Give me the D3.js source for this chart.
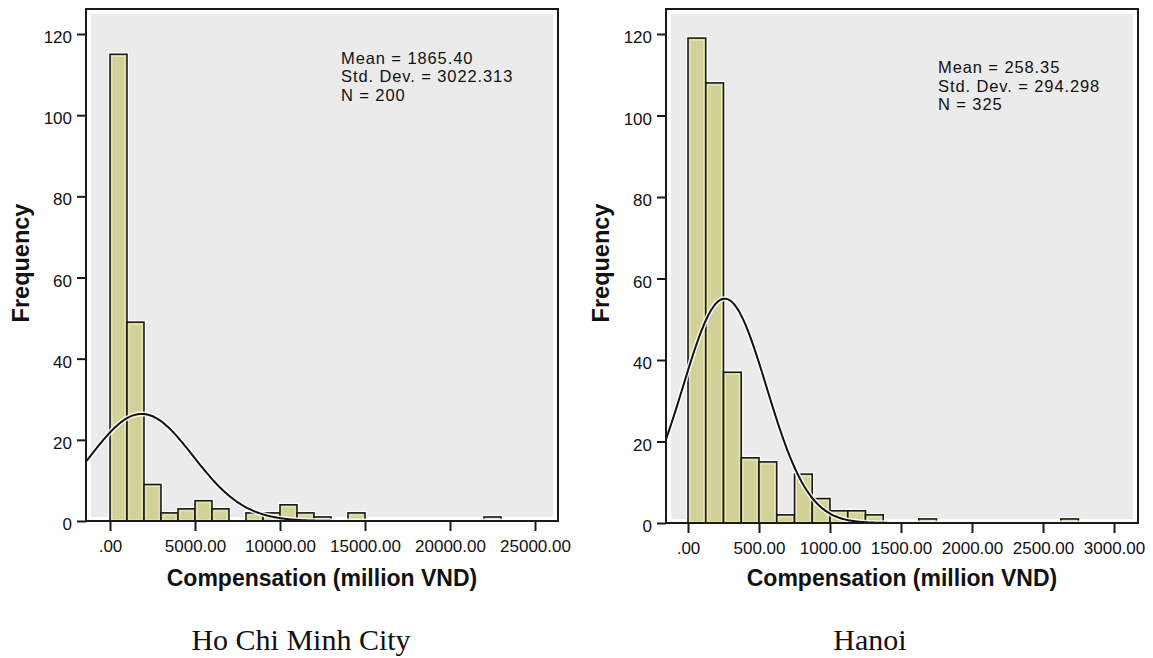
<!DOCTYPE html>
<html>
<head>
<meta charset="utf-8">
<script src="https://cdn.jsdelivr.net/npm/d3@7"></script>
<style>
  body { margin: 0; background: #fff; }
  svg text { font-family: "Liberation Sans", Arial, sans-serif; fill: #111; }
  .caption { font-family: "Liberation Serif", "Times New Roman", serif !important; }
</style>
</head>
<body>
<div id="chart-area"></div>
<script>
// Data
var yTicks = [0, 20, 40, 60, 80, 100, 120];

// Ho Chi Minh City: bins of 1000 starting at 0
var hcmCounts = [115, 49, 9, 2, 3, 5, 3, 0, 2, 2, 4, 2, 1, 0, 2, 0, 0, 0, 0, 0, 0, 0, 1];
var hcmBinWidth = 1000;
var hcmTicks = [0, 5000, 10000, 15000, 20000, 25000];
var hcmTickLabels = [".00", "5000.00", "10000.00", "15000.00", "20000.00", "25000.00"];
var hcmMean = 1865.40, hcmSd = 3022.313, hcmN = 200;
var hcmStats = ["Mean = 1865.40", "Std. Dev. = 3022.313", "N = 200"];

// Hanoi: bins of 125 starting at 0
var hanoiCounts = [119, 108, 37, 16, 15, 2, 12, 6, 3, 3, 2, 0, 0, 1, 0, 0, 0, 0, 0, 0, 0, 1];
var hanoiBinWidth = 125;
var hanoiTicks = [0, 500, 1000, 1500, 2000, 2500, 3000];
var hanoiTickLabels = [".00", "500.00", "1000.00", "1500.00", "2000.00", "2500.00", "3000.00"];
var hanoiMean = 258.35, hanoiSd = 294.298, hanoiN = 325;
var hanoiStats = ["Mean = 258.35", "Std. Dev. = 294.298", "N = 325"];

var xTitle = "Compensation (million VND)";
var yTitle = "Frequency";
var captions = ["Ho Chi Minh City", "Hanoi"];

var svg = d3.select("#chart-area")
    .append("svg")
        .attr("width", 1153)
        .attr("height", 658);

svg.append("rect").attr("width", 1153).attr("height", 658).attr("fill", "#fff");

function drawHist(o) {
    var g = svg.append("g");

    // scales: tick positions measured in pixels
    var x = d3.scaleLinear()
        .domain([0, o.ticks[o.ticks.length - 1]])
        .range([o.zeroPx, o.lastTickPx]);
    var y = d3.scaleLinear()
        .domain([0, 120])
        .range([o.bottom, 34]);

    //frame + grey plot area
    g.append("rect")
        .attr("x", o.left).attr("y", o.top)
        .attr("width", o.right - o.left).attr("height", o.bottom - o.top)
        .attr("fill", "#fff");
    g.append("rect")
        .attr("x", o.left + 5).attr("y", o.top + 5)
        .attr("width", o.right - o.left - 10).attr("height", o.bottom - o.top - 9)
        .attr("fill", "#ebebeb");

    var clipId = "clip-" + o.id;
    g.append("clipPath").attr("id", clipId)
        .append("rect")
        .attr("x", o.left).attr("y", o.top)
        .attr("width", o.right - o.left).attr("height", o.bottom - o.top);

    var bins = o.counts.map(function(c, i) {
        return { x0: i * o.binWidth, x1: (i + 1) * o.binWidth, count: c };
    }).filter(function(d) { return d.count > 0; });

    // white halo behind bars
    g.selectAll("rect.halo").data(bins).enter()
        .append("rect")
        .attr("class", "halo")
        .attr("x", function(d) { return x(d.x0); })
        .attr("y", function(d) { return y(d.count); })
        .attr("width", function(d) { return x(d.x1) - x(d.x0); })
        .attr("height", function(d) { return o.bottom - y(d.count); })
        .attr("fill", "none")
        .attr("stroke", "#fff")
        .attr("stroke-width", 4);

    g.selectAll("rect.bar").data(bins).enter()
        .append("rect")
        .attr("class", "bar")
        .attr("x", function(d) { return x(d.x0); })
        .attr("y", function(d) { return y(d.count); })
        .attr("width", function(d) { return x(d.x1) - x(d.x0); })
        .attr("height", function(d) { return o.bottom - y(d.count); })
        .attr("fill", "#d1d199")
        .attr("stroke", "#1a1a1a")
        .attr("stroke-width", 1.6);

    // light inner edge like the SPSS bars
    g.selectAll("rect.inner").data(bins.filter(function(d) { return d.count >= 2; })).enter()
        .append("rect")
        .attr("class", "inner")
        .attr("x", function(d) { return x(d.x0) + 2; })
        .attr("y", function(d) { return y(d.count) + 2; })
        .attr("width", function(d) { return Math.max(0, x(d.x1) - x(d.x0) - 4); })
        .attr("height", function(d) { return Math.max(0, o.bottom - y(d.count) - 3); })
        .attr("fill", "none")
        .attr("stroke", "#ecebb8")
        .attr("stroke-width", 1);

    // fitted normal curve
    var lo = x.invert(o.left), hi = x.invert(o.right);
    var pts = d3.range(0, 301).map(function(i) {
        var v = lo + (hi - lo) * i / 300;
        var z = (v - o.mean) / o.sd;
        return [v, o.n * o.binWidth / (o.sd * Math.sqrt(2 * Math.PI)) * Math.exp(-0.5 * z * z)];
    });
    var line = d3.line()
        .x(function(d) { return x(d[0]); })
        .y(function(d) { return y(d[1]); })
        .curve(d3.curveBasis);
    var cg = g.append("g").attr("clip-path", "url(#" + clipId + ")");
    cg.append("path").datum(pts).attr("d", line)
        .attr("fill", "none").attr("stroke", "#fff").attr("stroke-opacity", 0.85).attr("stroke-width", 5);
    cg.append("path").datum(pts).attr("d", line)
        .attr("fill", "none").attr("stroke", "#111").attr("stroke-width", 2);

    // frame lines
    g.append("rect")
        .attr("x", o.left).attr("y", o.top)
        .attr("width", o.right - o.left).attr("height", o.bottom - o.top)
        .attr("fill", "none")
        .attr("stroke", "#1a1a1a")
        .attr("stroke-width", 2);

    //Y Axis
    var yAxisCall = d3.axisLeft(y)
        .tickValues(yTicks)
        .tickSize(9)
        .tickPadding(5);
    var ya = g.append("g")
        .attr("transform", "translate(" + o.left + ",0)")
        .call(yAxisCall);
    ya.select(".domain").remove();
    ya.selectAll("line").attr("stroke", "#1a1a1a").attr("stroke-width", 2);
    ya.selectAll("text").attr("font-size", "17px").attr("dy", "0.5em")
        .attr("font-family", "Liberation Sans, Arial, sans-serif").attr("fill", "#222");

    //X Axis
    var xAxisCall = d3.axisBottom(x)
        .tickValues(o.ticks)
        .tickFormat(function(d, i) { return o.tickLabels[i]; })
        .tickSize(10)
        .tickPadding(9);
    var xa = g.append("g")
        .attr("transform", "translate(0," + o.bottom + ")")
        .call(xAxisCall);
    xa.select(".domain").remove();
    xa.selectAll("line").attr("stroke", "#1a1a1a").attr("stroke-width", 2);
    xa.selectAll("text").attr("font-size", "17px")
        .attr("font-family", "Liberation Sans, Arial, sans-serif").attr("fill", "#222");

    // stats box (tight leading, as in SPSS)
    o.stats.forEach(function(s, i) {
        g.append("text")
            .attr("x", o.statsX)
            .attr("y", o.statsY + i * 18.5)
            .attr("font-size", "16.5px")
            .attr("letter-spacing", "0.9px")
            .text(s);
    });

    // axis titles
    g.append("text")
        .attr("x", (o.left + o.right) / 2)
        .attr("y", 586)
        .attr("text-anchor", "middle")
        .attr("font-size", "23px")
        .attr("font-weight", "bold")
        .text(xTitle);
    g.append("text")
        .attr("transform", "translate(" + o.yTitleX + ",263) rotate(-90)")
        .attr("text-anchor", "middle")
        .attr("font-size", "23.5px")
        .attr("font-weight", "bold")
        .text(yTitle);

    // caption
    g.append("text")
        .attr("class", "caption")
        .attr("x", o.captionX)
        .attr("y", 650)
        .attr("text-anchor", "middle")
        .attr("font-size", "30px")
        .text(o.caption);
}

drawHist({
    id: "hcm", counts: hcmCounts, binWidth: hcmBinWidth,
    ticks: hcmTicks, tickLabels: hcmTickLabels,
    mean: hcmMean, sd: hcmSd, n: hcmN, stats: hcmStats,
    left: 86, right: 558, top: 9, bottom: 521,
    zeroPx: 110, lastTickPx: 535,
    statsX: 341, statsY: 63.5, yTitleX: 29,
    caption: captions[0], captionX: 301
});

drawHist({
    id: "hanoi", counts: hanoiCounts, binWidth: hanoiBinWidth,
    ticks: hanoiTicks, tickLabels: hanoiTickLabels,
    mean: hanoiMean, sd: hanoiSd, n: hanoiN, stats: hanoiStats,
    left: 666, right: 1138, top: 9, bottom: 523,
    zeroPx: 688, lastTickPx: 1114,
    statsX: 938, statsY: 73, yTitleX: 609,
    caption: captions[1], captionX: 870
});
</script>
</body>
</html>
